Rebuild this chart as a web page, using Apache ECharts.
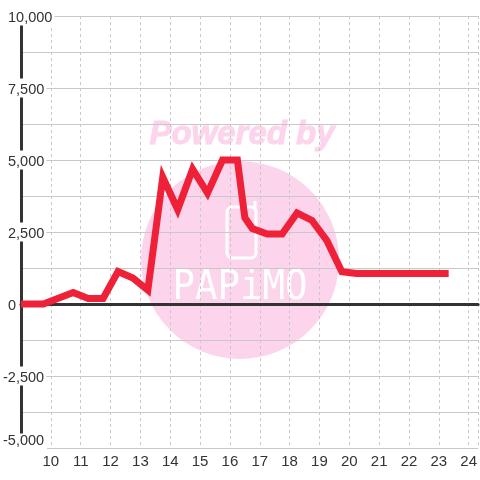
<!DOCTYPE html>
<html>
<head>
<meta charset="utf-8">
<style>
    html,body{margin:0;padding:0;background:#fff;}
    #chart{width:480px;height:480px;}
</style>
<script src="https://cdn.jsdelivr.net/npm/echarts@6/dist/echarts.min.js"></script>
</head>
<body>
<div id="chart"></div>
<script>
    var hours = [9, 9.75, 10.25, 10.75, 11.25, 11.75, 12.25, 12.75, 13.25, 13.75, 14.25, 14.75, 15.25, 15.75, 16.25, 16.5, 16.75, 17.25, 17.75, 18.25, 18.75, 19.25, 19.75, 20.25, 20.75, 21.25, 21.75, 22.25, 22.75, 23.33];
    var values = [0, 0, 200, 400, 190, 190, 1130, 900, 480, 4400, 3280, 4680, 3850, 5000, 5000, 3000, 2620, 2430, 2430, 3160, 2900, 2200, 1120, 1060, 1060, 1060, 1060, 1060, 1060, 1060];
    var yLabelValues = [-5000, -2500, 0, 2500, 5000, 7500, 10000];
    var watermarkTitle = 'Powered by';
    var watermarkName = 'PAPiMO';

    var chart = echarts.init(document.getElementById('chart'), null, {renderer: 'canvas'});

    function yLabel(v) {
        if (yLabelValues.indexOf(v) < 0) return '';
        var txt = echarts.format.addCommas(v);
        if (v === -5000) return '{low|' + txt + '}';
        return v < 0 ? '{neg|' + txt + '}' : '{pos|' + txt + '}';
    }

    var labelBase = {color: '#333', fontSize: 14.5, fontFamily: 'Liberation Sans', backgroundColor: '#fff', lineHeight: 10};

    chart.setOption({
        animation: false,
        backgroundColor: '#fff',
        grid: {left: 20.5, right: 0, top: 16, bottom: 32, containLabel: false},
        graphic: [
            {type: 'circle', z: -10, shape: {cx: 240, cy: 260, r: 99}, style: {fill: '#fcd5ec'}, silent: true},
            {type: 'text', z: -10, x: 242, y: 135, silent: true, style: {
                text: watermarkTitle, fill: '#fcd5ec', stroke: '#fcd5ec', lineWidth: 1,
                font: 'italic bold 33px "Liberation Sans"',
                align: 'center', verticalAlign: 'middle'
            }},
            {type: 'rect', z: -9, shape: {x: 227, y: 207, width: 29, height: 51, r: 5}, style: {fill: 'none', stroke: '#fff', lineWidth: 3}, silent: true},
            {type: 'line', z: -9, shape: {x1: 255, y1: 201, x2: 255, y2: 210}, style: {stroke: '#fff', lineWidth: 3}, silent: true},
            {type: 'text', z: -9, x: 240, y: 289, scaleX: 1.04, scaleY: 1.12, silent: true, style: {
                text: watermarkName, fill: '#fff', font: '36px "DejaVu Sans Mono"',
                align: 'center', verticalAlign: 'middle'
            }}
        ],
        xAxis: [
            {
                type: 'value', min: 9, max: 24.317, interval: 1,
                axisLine: {show: false, onZero: false},
                axisTick: {show: false},
                axisLabel: {
                    color: '#333', fontSize: 15, fontFamily: 'Liberation Sans', margin: 6,
                    showMinLabel: false, showMaxLabel: false, hideOverlap: false
                },
                splitLine: {show: true, lineStyle: {color: '#c8c8c8', type: [3, 3], width: 1}}
            },
            {
                type: 'value', min: 9, max: 24.317, interval: 1, position: 'top',
                axisLine: {show: true, onZero: true, lineStyle: {color: '#333', width: 3}},
                axisTick: {show: false},
                axisLabel: {show: false},
                splitLine: {show: false}
            }
        ],
        yAxis: {
            type: 'value', min: -5000, max: 10000, interval: 1250,
            axisLine: {show: true, onZero: false, lineStyle: {color: '#333', width: 3}},
            axisTick: {show: false},
            axisLabel: {
                align: 'left', margin: 18, hideOverlap: false, formatter: yLabel,
                rich: {
                    pos: Object.assign({padding: [4, 2, 0, 5]}, labelBase),
                    neg: Object.assign({padding: [4, 2, 0, 0]}, labelBase),
                    low: Object.assign({padding: [0, 3, 14, 0]}, labelBase)
                }
            },
            splitLine: {show: true, lineStyle: {color: '#c8c8c8', width: 1}}
        },
        series: [{
            type: 'line',
            data: hours.map(function (h, i) { return [h, values[i]]; }),
            showSymbol: false,
            symbol: 'none',
            clip: false,
            z: 5,
            lineStyle: {color: '#ee2139', width: 7, join: 'miter', cap: 'butt', miterLimit: 4}
        }]
    });
</script>
</body>
</html>
